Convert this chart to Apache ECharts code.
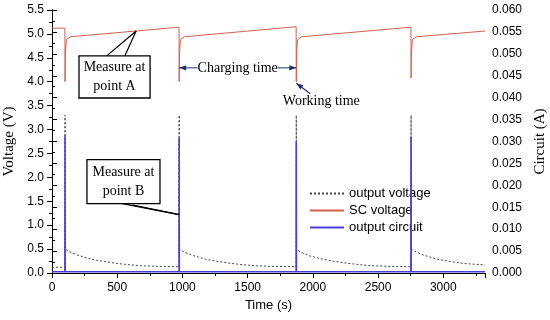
<!DOCTYPE html>
<html><head><meta charset="utf-8">
<script src="https://cdn.jsdelivr.net/npm/echarts@6/dist/echarts.min.js"></script>
<style>html,body{margin:0;padding:0;background:#fff}#c{width:550px;height:320px}</style>
</head><body><div id="c"></div>
<script>
// ---- data ----
const seriesNames = ['output voltage', 'SC voltage', 'output circuit'];

// SC voltage (left axis, V)
const scTime = [0, 99, 100, 103, 110, 140, 974, 975, 978, 985, 1015, 1872, 1873, 1876, 1883, 1913, 2752, 2753, 2756, 2763, 2793, 3320];
const scVolt = [5.12, 5.12, 4.0, 4.6, 4.88, 4.94, 5.14, 4.0, 4.6, 4.88, 4.94, 5.15, 4.0, 4.6, 4.88, 4.94, 5.14, 4.08, 4.6, 4.88, 4.94, 5.06];

// output voltage (left axis, V)
const ovTime = [0, 99, 100, 101, 130, 200, 300, 400, 500, 600, 700, 800, 974,
                975, 976, 1005, 1075, 1175, 1275, 1375, 1475, 1575, 1675, 1872,
                1873, 1874, 1903, 1973, 2073, 2173, 2273, 2373, 2473, 2573, 2752,
                2753, 2754, 2783, 2853, 2953, 3053, 3153, 3253, 3320];
const ovVolt = [0.12, 0.12, 3.3, 0.50, 0.45, 0.37, 0.29, 0.24, 0.20, 0.17, 0.15, 0.14, 0.13,
                3.3, 0.50, 0.45, 0.37, 0.29, 0.24, 0.20, 0.17, 0.15, 0.14, 0.13,
                3.3, 0.50, 0.44, 0.36, 0.29, 0.24, 0.20, 0.17, 0.15, 0.14, 0.13,
                3.3, 0.50, 0.45, 0.37, 0.29, 0.24, 0.20, 0.18, 0.17];

// output circuit (right axis, A)
const ocTime = [0, 99, 100, 101, 974, 975, 976, 1872, 1873, 1874, 2752, 2753, 2754, 3320];
const ocCurr = [0.0003, 0.0003, 0.0313, 0.0003, 0.0003, 0.0308, 0.0003, 0.0003, 0.0300, 0.0003, 0.0003, 0.0310, 0.0003, 0.0003];

// axes
const xMin = 0, xMax = 3320, xStep = 500;
const yLMin = 0, yLMax = 5.5, yLStep = 0.5;
const yRMin = 0, yRMax = 0.06, yRStep = 0.005;

const zip = (a, b) => a.map((t, i) => [t, b[i]]);

const SANS = 'Liberation Sans, Arial, sans-serif';
const SERIF = 'Liberation Serif, Times New Roman, serif';
const BLACK = '#000';

const chart = echarts.init(document.getElementById('c'), null, {renderer: 'canvas'});

const tickCommon = {
  axisLine: {show: true, lineStyle: {color: BLACK, width: 1}},
  axisTick: {show: true, inside: false, length: 5, lineStyle: {color: BLACK}},
  minorTick: {show: true, splitNumber: 2, length: 3, lineStyle: {color: BLACK}},
  splitLine: {show: false},
  minorSplitLine: {show: false}
};

chart.setOption({
  animation: false,
  backgroundColor: '#fff',
  grid: {left: 52, right: 65, top: 10, bottom: 47, containLabel: false, outerBoundsMode: 'none'},
  legend: {
    data: seriesNames,
    orient: 'vertical',
    left: 309, top: 187,
    padding: 0,
    itemWidth: 34, itemHeight: 14, itemGap: 4, itemTextGap: 5,
    itemStyle: {opacity: 0},
    textStyle: {fontFamily: SANS, fontSize: 13, color: BLACK}
  },
  xAxis: [{
    type: 'value', min: xMin, max: xMax, interval: xStep, position: 'bottom',
    name: 'Time (s)', nameLocation: 'middle', nameGap: 24,
    nameTextStyle: {fontFamily: SANS, fontSize: 13, color: BLACK},
    axisLabel: {fontFamily: SANS, fontSize: 12, color: BLACK, margin: 9, showMaxLabel: false,
      formatter: v => String(v)},
    ...tickCommon
  }, {
    type: 'value', min: xMin, max: xMax, interval: xStep, position: 'top',
    axisLine: {show: true, lineStyle: {color: BLACK, width: 1}},
    axisTick: {show: true, inside: true, length: 4, lineStyle: {color: BLACK}},
    minorTick: {show: false},
    axisLabel: {show: false}, splitLine: {show: false}
  }],
  yAxis: [{
    type: 'value', min: yLMin, max: yLMax, interval: yLStep, position: 'left',
    name: 'Voltage (V)', nameLocation: 'middle', nameGap: 27, nameRotate: 90,
    nameTextStyle: {fontFamily: SERIF, fontSize: 15, color: BLACK},
    axisLabel: {fontFamily: SANS, fontSize: 12, color: BLACK, margin: 8,
      formatter: v => v.toFixed(1)},
    ...tickCommon
  }, {
    type: 'value', min: yRMin, max: yRMax, interval: yRStep, position: 'right',
    alignTicks: false,
    name: 'Circuit (A)', nameLocation: 'middle', nameGap: 43, nameRotate: 90,
    nameTextStyle: {fontFamily: SERIF, fontSize: 15, color: BLACK},
    axisLabel: {fontFamily: SANS, fontSize: 12, color: BLACK, margin: 7,
      formatter: v => v.toFixed(3)},
    ...tickCommon
  }],
  series: [{
    name: seriesNames[0], type: 'line', xAxisIndex: 0, yAxisIndex: 0,
    data: zip(ovTime, ovVolt), symbol: 'none', showSymbol: false,
    lineStyle: {color: '#444', width: 1, type: [2, 2]}, itemStyle: {color: '#444'}, z: 2
  }, {
    name: seriesNames[1], type: 'line', xAxisIndex: 0, yAxisIndex: 0,
    data: zip(scTime, scVolt), symbol: 'none', showSymbol: false,
    lineStyle: {color: '#d2604e', width: 1}, itemStyle: {color: '#d2604e'}, z: 3
  }, {
    name: seriesNames[2], type: 'line', xAxisIndex: 0, yAxisIndex: 1,
    data: zip(ocTime, ocCurr), symbol: 'none', showSymbol: false,
    lineStyle: {color: '#4a3fd6', width: 1.6}, itemStyle: {color: '#4a3fd6'}, z: 4
  }]
});

// ---- annotations placed through the axes ----
const P = (t, v) => chart.convertToPixel({xAxisIndex: 0, yAxisIndex: 0}, [t, v]);
const NAVY = '#22306e';
function head(tip, from, color) {
  const dx = tip[0] - from[0], dy = tip[1] - from[1];
  const L = Math.hypot(dx, dy) || 1, ux = dx / L, uy = dy / L;
  const len = 7, w = 2.6;
  const bx = tip[0] - ux * len, by = tip[1] - uy * len;
  return {type: 'polygon', shape: {points: [tip, [bx - uy * w, by + ux * w], [bx + uy * w, by - ux * w]]},
    style: {fill: color}, z: 20};
}
function line(a, b, color, w) {
  return {type: 'line', shape: {x1: a[0], y1: a[1], x2: b[0], y2: b[1]}, style: {stroke: color, lineWidth: w || 1}, z: 20};
}
function box(a, b, text) {
  const x = Math.min(a[0], b[0]), y = Math.min(a[1], b[1]);
  const w = Math.abs(b[0] - a[0]), h = Math.abs(b[1] - a[1]);
  return [{type: 'rect', shape: {x: x, y: y, width: w, height: h},
      style: {fill: '#fff', stroke: BLACK, lineWidth: 1.3}, z: 21},
    {type: 'text', style: {x: x + w / 2, y: y + h / 2, text: text, align: 'center', verticalAlign: 'middle',
      font: '14px ' + SERIF, fill: BLACK, lineHeight: 19}, z: 22}];
}
const g = [];
// Measure at point A
const tipA = P(645, 5.06);
g.push(line(P(420, 4.54), tipA, BLACK, 1.2), line(P(558, 4.54), tipA, BLACK, 1.2));
g.push(...box(P(207, 4.54), P(752, 3.66), 'Measure at\npoint A'));
// Measure at point B
const tipB = P(975, 1.22);
g.push(line(P(500, 1.47), tipB, BLACK, 1.2), line(P(620, 1.42), tipB, BLACK, 1.2));
g.push(...box(P(268, 2.37), P(828, 1.45), 'Measure at\npoint B'));
// Charging time
const cL = P(975, 4.29), cR = P(1873, 4.29);
const mid = [(cL[0] + cR[0]) / 2, cL[1]];
g.push(line(cL, [mid[0] - 40, mid[1]], NAVY, 1), line([mid[0] + 40, mid[1]], cR, NAVY, 1));
g.push(head(cL, cR, NAVY), head(cR, cL, NAVY));
g.push({type: 'text', style: {x: mid[0], y: mid[1], text: 'Charging time', align: 'center', verticalAlign: 'middle',
  font: '14px ' + SERIF, fill: BLACK}, z: 22});
// Working time
const wTip = P(1873, 3.97), wFrom = P(1980, 3.75);
g.push(line(wFrom, wTip, NAVY, 1.2), head(wTip, wFrom, NAVY));
const wTxt = P(2065, 3.58);
g.push({type: 'text', style: {x: wTxt[0], y: wTxt[1], text: 'Working time', align: 'center', verticalAlign: 'middle',
  font: '14px ' + SERIF, fill: BLACK}, z: 22});

chart.setOption({graphic: {elements: g}});
</script>
</body></html>
